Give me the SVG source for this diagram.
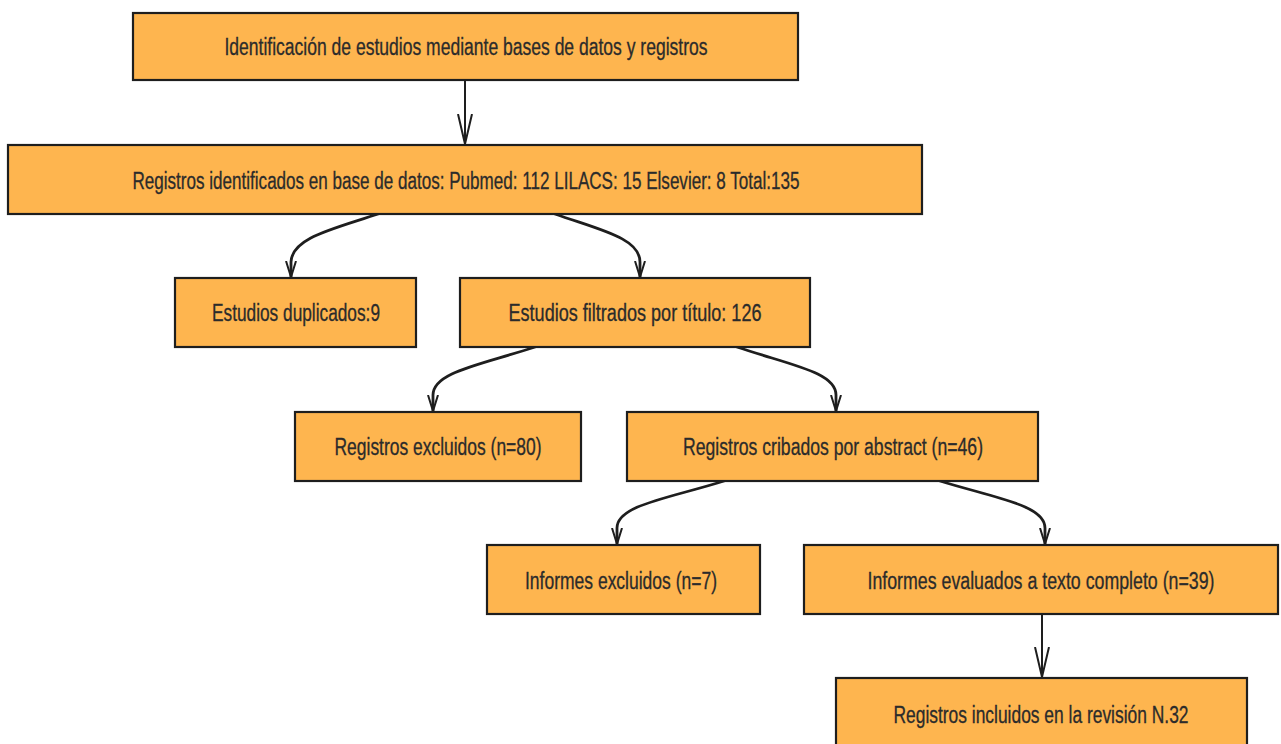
<svg xmlns="http://www.w3.org/2000/svg" width="1281" height="744" viewBox="0 0 1281 744">
<style>
.box{fill:#feb54f;stroke:#1e1e1e;stroke-width:2.2}
.edge{fill:none;stroke:#1e1e1e;stroke-width:2.8;stroke-linecap:round}
.line{fill:none;stroke:#1e1e1e;stroke-width:2;stroke-linecap:round}
.lbl{font-family:"Liberation Sans",Arial,sans-serif;font-size:23px;fill:#2b2b2b;text-anchor:middle;stroke:#2b2b2b;stroke-width:0.3}
</style>
<defs>
<marker id="big" viewBox="0 0 30 16" refX="30" refY="8" markerWidth="30" markerHeight="16" markerUnits="userSpaceOnUse" orient="auto">
<path d="M0,1 L30,8 L0,15" fill="none" stroke="#1e1e1e" stroke-width="2"/>
</marker>
<marker id="small" viewBox="0 0 16 12" refX="16" refY="6" markerWidth="16" markerHeight="12" markerUnits="userSpaceOnUse" orient="auto">
<path d="M0,1 L16,6 L0,11" fill="none" stroke="#1e1e1e" stroke-width="2"/>
</marker>
</defs>
<g id="connectors">
<path class="line" d="M465,80 L465,144" marker-end="url(#big)"/>
<path class="edge" d="M378,214 C330,230 292,238 291,262 L291,277" marker-end="url(#small)"/>
<path class="edge" d="M555,214 C600,230 640,238 640,262 L640,277" marker-end="url(#small)"/>
<path class="edge" d="M535,347 C480,365 433,372 433,395 L433,411" marker-end="url(#small)"/>
<path class="edge" d="M737,347 C790,365 836,372 836,395 L836,411" marker-end="url(#small)"/>
<path class="edge" d="M724,481 C670,498 617,505 617,528 L617,544" marker-end="url(#small)"/>
<path class="edge" d="M940,481 C995,498 1045,505 1045,528 L1045,544" marker-end="url(#small)"/>
<path class="line" d="M1042,614 L1042,677" marker-end="url(#big)"/>
</g>
<g id="n1"><rect class="box" x="133" y="13" width="665" height="67"/><text class="lbl" x="466" y="55" textLength="483" lengthAdjust="spacingAndGlyphs">Identificación de estudios mediante bases de datos y registros</text></g>
<g id="n2"><rect class="box" x="8" y="145" width="914" height="69"/><text class="lbl" x="466" y="189" textLength="667" lengthAdjust="spacingAndGlyphs">Registros identificados en base de datos: Pubmed: 112 LILACS: 15 Elsevier: 8 Total:135</text></g>
<g id="n3"><rect class="box" x="175" y="278" width="241" height="69"/><text class="lbl" x="296" y="321" textLength="168" lengthAdjust="spacingAndGlyphs">Estudios duplicados:9</text></g>
<g id="n4"><rect class="box" x="460" y="278" width="350" height="69"/><text class="lbl" x="635" y="321" textLength="253" lengthAdjust="spacingAndGlyphs">Estudios filtrados por título: 126</text></g>
<g id="n5"><rect class="box" x="295" y="412" width="286" height="69"/><text class="lbl" x="438" y="455" textLength="207" lengthAdjust="spacingAndGlyphs">Registros excluidos (n=80)</text></g>
<g id="n6"><rect class="box" x="627" y="412" width="411" height="69"/><text class="lbl" x="833" y="455" textLength="300" lengthAdjust="spacingAndGlyphs">Registros cribados por abstract (n=46)</text></g>
<g id="n7"><rect class="box" x="487" y="545" width="273" height="69"/><text class="lbl" x="621" y="589" textLength="192" lengthAdjust="spacingAndGlyphs">Informes excluidos (n=7)</text></g>
<g id="n8"><rect class="box" x="804" y="545" width="474" height="69"/><text class="lbl" x="1041" y="589" textLength="347" lengthAdjust="spacingAndGlyphs">Informes evaluados a texto completo (n=39)</text></g>
<g id="n9"><rect class="box" x="836" y="678" width="411" height="70"/><text class="lbl" x="1041" y="723" textLength="295" lengthAdjust="spacingAndGlyphs">Registros incluidos en la revisión N.32</text></g>
</svg>
